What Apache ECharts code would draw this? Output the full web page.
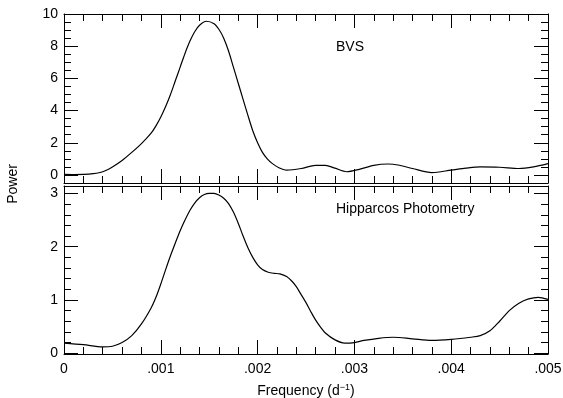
<!DOCTYPE html>
<html>
<head>
<meta charset="utf-8">
<title>Power spectra</title>
<script src="https://cdn.jsdelivr.net/npm/echarts@6/dist/echarts.min.js"></script>
<style>
  html, body { margin: 0; padding: 0; background: #fff; }
  #chart { width: 563px; height: 398px; }
</style>
</head>
<body>
<div id="chart"></div>
<script>
// BVS periodogram (frequency in d^-1, power)
const bvsFreq = [0, 0.0001, 0.0002, 0.0003, 0.0004, 0.0005, 0.0006, 0.0007, 0.0008, 0.0009,
  0.00095, 0.0010, 0.00105, 0.0011, 0.00115, 0.0012, 0.00125, 0.0013, 0.00135, 0.0014, 0.00147,
  0.00155, 0.0016, 0.00165, 0.0017, 0.00175, 0.0018, 0.00185, 0.0019, 0.00195, 0.0020,
  0.00205, 0.0021, 0.00215, 0.00222, 0.0023, 0.00245, 0.0026, 0.0027, 0.0028, 0.00292,
  0.00305, 0.0032, 0.00335, 0.00345, 0.0036, 0.0038, 0.0040, 0.00415, 0.0043, 0.0045,
  0.0047, 0.00485, 0.0050];
const bvsPower = [0.03, 0.02, 0.03, 0.08, 0.2, 0.5, 0.9, 1.4, 1.95, 2.6,
  3.05, 3.6, 4.25, 5.0, 5.85, 6.7, 7.55, 8.3, 8.9, 9.3, 9.55,
  9.4, 9.05, 8.5, 7.7, 6.7, 5.7, 4.7, 3.7, 2.75, 2.0,
  1.4, 1.0, 0.72, 0.45, 0.3, 0.4, 0.6, 0.6, 0.42, 0.2,
  0.35, 0.6, 0.68, 0.62, 0.4, 0.15, 0.3, 0.42, 0.5, 0.48,
  0.4, 0.5, 0.7];

// Hipparcos photometry periodogram
const hipFreq = [0, 0.0002, 0.0004, 0.0005, 0.0006, 0.0007, 0.0008, 0.0009, 0.00095, 0.0010,
  0.00105, 0.0011, 0.00115, 0.0012, 0.00125, 0.0013, 0.00135, 0.0014, 0.00145, 0.0015,
  0.00155, 0.0016, 0.00165, 0.0017, 0.00175, 0.0018, 0.00185, 0.0019, 0.00195, 0.0020,
  0.00205, 0.00211, 0.00217, 0.00223, 0.0023, 0.00235, 0.0024, 0.00245, 0.0025, 0.00255,
  0.0026, 0.00265, 0.0027, 0.0028, 0.0029, 0.0030, 0.0031, 0.00325, 0.0034, 0.0036,
  0.0038, 0.0040, 0.0042, 0.0043, 0.0044, 0.0045, 0.0046, 0.0047, 0.0048, 0.0049,
  0.0050];
const hipPower = [0.19, 0.16, 0.12, 0.13, 0.2, 0.33, 0.55, 0.85, 1.05, 1.3,
  1.57, 1.83, 2.07, 2.3, 2.5, 2.68, 2.82, 2.92, 2.98, 3.0,
  3.0, 2.97, 2.91, 2.81, 2.65, 2.44, 2.2, 1.98, 1.8, 1.66,
  1.57, 1.52, 1.5, 1.49, 1.44, 1.36, 1.25, 1.1, 0.95, 0.78,
  0.62, 0.49, 0.38, 0.25, 0.19, 0.2, 0.24, 0.28, 0.3, 0.27,
  0.24, 0.26, 0.3, 0.33, 0.42, 0.6, 0.8, 0.94, 1.02, 1.05,
  1.01];

// Frequency marked by the dotted line in both panels
const markFreq = 0.00211;

// Power axis ticks
const topMajorTicks = [0, 2, 4, 6, 8, 10];
const topMinorTicks = [0.5, 1, 1.5, 2.5, 3, 3.5, 4.5, 5, 5.5, 6.5, 7, 7.5, 8.5, 9, 9.5];
const botMajorTicks = [0, 1, 2, 3];
const botMinorTicks = [0.2, 0.4, 0.6, 0.8, 1.2, 1.4, 1.6, 1.8, 2.2, 2.4, 2.6, 2.8];

const panelLabels = ['BVS', 'Hipparcos Photometry'];

const FONT = '"Liberation Sans", Arial, Helvetica, sans-serif';
const INK = '#000';

function zip(xs, ys) { return xs.map((x, i) => [x, ys[i]]); }

function xAxisCfg(gridIndex, position, withLabels) {
  const cfg = {
    type: 'value', gridIndex, position,
    min: 0, max: 0.005, interval: 0.001,
    axisLine: { show: true, onZero: false, lineStyle: { color: INK, width: 1 } },
    axisTick: { show: true, inside: true, length: 14, lineStyle: { color: INK, width: 1 } },
    minorTick: { show: true, splitNumber: 5, length: 7, lineStyle: { color: INK, width: 1 } },
    splitLine: { show: false },
    minorSplitLine: { show: false },
    axisLabel: {
      show: withLabels, margin: 8, color: INK, fontSize: 14, fontFamily: FONT,
      formatter: v => (v === 0 ? '0' : v.toFixed(3).replace(/^0/, ''))
    }
  };
  if (withLabels) {
    cfg.name = 'Frequency (d{sup|\u22121})';
    cfg.nameLocation = 'middle';
    cfg.nameGap = 29;
    cfg.nameTextStyle = {
      color: INK, fontSize: 14, fontFamily: FONT,
      rich: { sup: { fontSize: 9, fontFamily: FONT, color: INK, padding: [0, 0, 8, 0] } }
    };
  }
  return cfg;
}

function yAxisCfg(gridIndex, position, min, max, ticks, len, withLabels, showLine) {
  return {
    type: 'value', gridIndex, position, min, max,
    axisLine: { show: showLine, onZero: false, lineStyle: { color: INK, width: 1 } },
    axisTick: { show: true, inside: true, length: len, customValues: ticks,
      lineStyle: { color: INK, width: 1 } },
    splitLine: { show: false },
    axisLabel: withLabels
      ? { show: true, customValues: ticks, margin: 6, color: INK, fontSize: 14, fontFamily: FONT }
      : { show: false }
  };
}

const markLineCfg = {
  silent: true,
  symbol: ['none', 'none'],
  label: { show: false },
  lineStyle: { type: 'dotted', color: INK, width: 1 },
  data: [{ xAxis: markFreq }]
};

const lineSeries = (name, xIdx, yIdx, xs, ys) => ({
  name, type: 'line', xAxisIndex: xIdx, yAxisIndex: yIdx,
  data: zip(xs, ys), smooth: 0.3, showSymbol: false,
  lineStyle: { color: INK, width: 1.2 }, markLine: markLineCfg
});

const chart = echarts.init(document.getElementById('chart'), null, { renderer: 'canvas' });

chart.setOption({
  animation: false,
  backgroundColor: '#fff',
  grid: [
    { left: 64, top: 14, width: 484, height: 169, outerBoundsMode: 'none' },
    { left: 64, top: 186, width: 484, height: 168, outerBoundsMode: 'none' }
  ],
  xAxis: [
    xAxisCfg(0, 'bottom', false),
    xAxisCfg(0, 'top', false),
    xAxisCfg(1, 'bottom', true),
    xAxisCfg(1, 'top', false)
  ],
  yAxis: [
    yAxisCfg(0, 'left', -0.5, 10, topMajorTicks, 14, true, true),
    yAxisCfg(0, 'left', -0.5, 10, topMinorTicks, 7, false, false),
    yAxisCfg(0, 'right', -0.5, 10, topMajorTicks, 14, false, true),
    yAxisCfg(0, 'right', -0.5, 10, topMinorTicks, 7, false, false),
    yAxisCfg(1, 'left', -0.015, 3.14, botMajorTicks, 14, true, true),
    yAxisCfg(1, 'left', -0.015, 3.14, botMinorTicks, 7, false, false),
    yAxisCfg(1, 'right', -0.015, 3.14, botMajorTicks, 14, false, true),
    yAxisCfg(1, 'right', -0.015, 3.14, botMinorTicks, 7, false, false)
  ],
  series: [
    lineSeries(panelLabels[0], 0, 0, bvsFreq, bvsPower),
    lineSeries(panelLabels[1], 2, 4, hipFreq, hipPower)
  ],
  graphic: [
    { type: 'text', left: 336, top: 40,
      style: { text: panelLabels[0], font: '14px ' + FONT, fill: INK } },
    { type: 'text', left: 336, top: 202,
      style: { text: panelLabels[1], font: '14px ' + FONT, fill: INK } },
    { type: 'text', x: 13, y: 184, rotation: Math.PI / 2,
      style: { text: 'Power', font: '14px ' + FONT, fill: INK, align: 'center', verticalAlign: 'middle' } }
  ]
});
</script>
</body>
</html>
